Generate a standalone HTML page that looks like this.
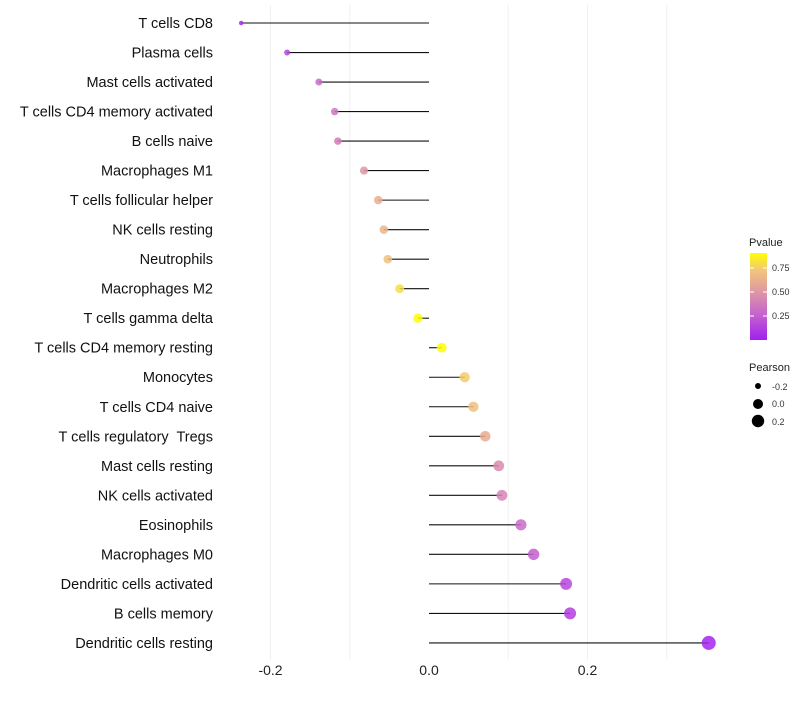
<!DOCTYPE html>
<html><head><meta charset="utf-8"><style>
body{margin:0;background:#fff}
svg{font-family:"Liberation Sans",sans-serif}
text{white-space:pre}
</style></head><body>
<svg id="chart" width="800" height="700">
<defs><linearGradient id="pg" x1="0" y1="1" x2="0" y2="0">
<stop offset="0" stop-color="#A020F0"/><stop offset="0.3" stop-color="#C665CC"/><stop offset="0.55" stop-color="#DE96A6"/><stop offset="0.8" stop-color="#F2C57A"/><stop offset="1" stop-color="#FFFF00"/></linearGradient></defs>
<g id="grid"></g><g id="marks"></g><g id="labels"></g>
<g>
<text x="749" y="246" font-size="11" fill="#222">Pvalue</text>
<rect x="750" y="253" width="17" height="87" fill="url(#pg)"/>
<g stroke="#fff" stroke-width="1"><line x1="750" y1="268" x2="754" y2="268"/><line x1="763" y1="268" x2="767" y2="268"/><line x1="750" y1="292" x2="754" y2="292"/><line x1="763" y1="292" x2="767" y2="292"/><line x1="750" y1="316" x2="754" y2="316"/><line x1="763" y1="316" x2="767" y2="316"/></g>
<text x="772" y="271" font-size="9" fill="#333">0.75</text>
<text x="772" y="295" font-size="9" fill="#333">0.50</text>
<text x="772" y="319" font-size="9" fill="#333">0.25</text>
</g>
<g>
<text x="749" y="371" font-size="11" fill="#222">Pearson</text>
<circle cx="758" cy="386" r="3" fill="#000"/><text x="772" y="390" font-size="9" fill="#333">-0.2</text>
<circle cx="758" cy="404" r="5" fill="#000"/><text x="772" y="407" font-size="9" fill="#333">0.0</text>
<circle cx="758" cy="421" r="6.2" fill="#000"/><text x="772" y="425" font-size="9" fill="#333">0.2</text>
</g>
</svg>
<script>
const cells=["T cells CD8","Plasma cells","Mast cells activated","T cells CD4 memory activated","B cells naive","Macrophages M1","T cells follicular helper","NK cells resting","Neutrophils","Macrophages M2","T cells gamma delta","T cells CD4 memory resting","Monocytes","T cells CD4 naive","T cells regulatory  Tregs","Mast cells resting","NK cells activated","Eosinophils","Macrophages M0","Dendritic cells activated","B cells memory","Dendritic cells resting"];
const pearson=[-0.237,-0.179,-0.139,-0.119,-0.115,-0.082,-0.064,-0.057,-0.052,-0.037,-0.014,0.016,0.045,0.056,0.071,0.088,0.092,0.116,0.132,0.173,0.178,0.353];
const pvalue=[0.05,0.15,0.3,0.35,0.38,0.5,0.62,0.65,0.7,0.8,0.9,0.9,0.75,0.7,0.6,0.45,0.42,0.3,0.25,0.15,0.12,0.02];
const xticks=[-0.2,0.0,0.2];
const gridVals=[-0.2,-0.1,0.1,0.2,0.3];
const X=v=>429+v*792.5, Y=i=>23+i*29.52;
const stops=[[0,[160,32,240]],[0.3,[198,101,204]],[0.55,[222,150,166]],[0.8,[242,197,122]],[1,[255,255,0]]];
function col(p){let t=Math.min(1,Math.max(0,p/0.906));for(let k=1;k<stops.length;k++){if(t<=stops[k][0]){const a=stops[k-1],b=stops[k],f=(t-a[0])/(b[0]-a[0]);return 'rgb('+a[1].map((c,j)=>Math.round(c+(b[1][j]-c)*f)).join(',')+')';}}return 'rgb(255,255,0)';}
const NS="http://www.w3.org/2000/svg";
function mk(t,a,p){const e=document.createElementNS(NS,t);for(const k in a)e.setAttribute(k,a[k]);p.appendChild(e);return e;}
const g=document.getElementById('grid'),m=document.getElementById('marks'),l=document.getElementById('labels');
gridVals.forEach(v=>{const e=mk('line',{x1:X(v),x2:X(v),y1:5,y2:660,stroke:'#f0f0f0','stroke-width':1},g);

});
xticks.forEach(v=>{const e=mk('text',{x:X(v),y:675,'font-size':14,'text-anchor':'middle',fill:'#222'},l);e.textContent=v.toFixed(1);

});
cells.forEach((c,i)=>{const y=Y(i);
const ln=mk('line',{x1:X(0),x2:X(pearson[i]),y1:y,y2:y,stroke:'#111','stroke-width':1.1},m);


const r=Math.sqrt(5+75*(pearson[i]+0.237));
const ci=mk('circle',{cx:X(pearson[i]),cy:y,r:r,fill:col(pvalue[i]),'fill-opacity':0.85},m);


const t=mk('text',{x:213,y:y+5,'font-size':14.5,'text-anchor':'end',fill:'#111'},l);t.textContent=c;

});
</script>
</body></html>
